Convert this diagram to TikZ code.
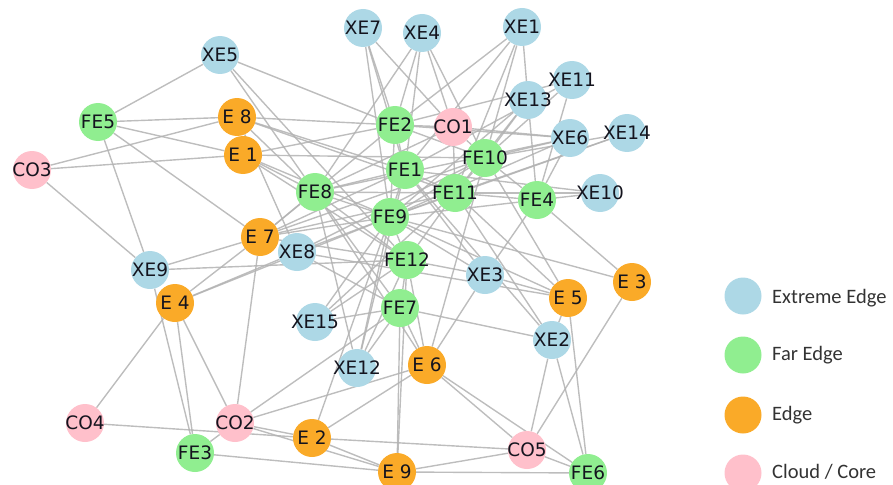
\documentclass[tikz,border=0pt]{standalone}
\usepackage{fontspec}
\setmainfont{DejaVu Sans}
\newfontfamily\legendfont{Carlito}
\usetikzlibrary{backgrounds}
\definecolor{xecol}{RGB}{173,216,230}
\definecolor{fecol}{RGB}{144,238,144}
\definecolor{ecol}{RGB}{250,170,40}
\definecolor{cocol}{RGB}{255,192,203}
\definecolor{linkcol}{RGB}{178,178,178}
\definecolor{labcol}{RGB}{20,20,30}
\newcommand\lbl[1]{\makebox[0pt]{#1}}
\tikzset{
  x=1pt, y=-1pt,
  vert/.style={circle, minimum size=38pt, inner sep=0pt, text=labcol,
    font=\fontsize{18.5}{18.5}\selectfont},
  xe/.style={vert, fill=xecol},
  fe/.style={vert, fill=fecol},
  ed/.style={vert, fill=ecol},
  co/.style={vert, fill=cocol},
  link/.style={draw=linkcol, line width=1.4pt, opacity=0.85},
  legdot/.style={circle, minimum size=37pt, inner sep=0pt},
  legtext/.style={anchor=west, inner sep=0pt, text=black!80,
    font=\legendfont\fontsize{20.5}{20.5}\selectfont},
}
\begin{document}
\begin{tikzpicture}
\useasboundingbox (0,0) rectangle (893,484);

% extreme edge
\node[xe] (XE1)  at (522,27)  {\lbl{XE1}};
\node[xe] (XE2)  at (552,340) {\lbl{XE2}};
\node[xe] (XE3)  at (485,275) {\lbl{XE3}};
\node[xe] (XE4)  at (422,33)  {\lbl{XE4}};
\node[xe] (XE5)  at (220,55)  {\lbl{XE5}};
\node[xe] (XE6)  at (570,138) {\lbl{XE6}};
\node[xe] (XE7)  at (363,28)  {\lbl{XE7}};
\node[xe] (XE8)  at (297,252) {\lbl{XE8}};
\node[xe] (XE9)  at (150,270) {\lbl{XE9}};
\node[xe] (XE10) at (600,193) {\lbl{XE10}};
\node[xe] (XE11) at (572,80)  {\lbl{XE11}};
\node[xe] (XE12) at (357,368) {\lbl{XE12}};
\node[xe] (XE13) at (528,100) {\lbl{XE13}};
\node[xe] (XE14) at (627,133) {\lbl{XE14}};
\node[xe] (XE15) at (315,322) {\lbl{XE15}};
% far edge
\node[fe] (FE1)  at (405,170) {\lbl{FE1}};
\node[fe] (FE2)  at (395,125) {\lbl{FE2}};
\node[fe] (FE3)  at (195,453) {\lbl{FE3}};
\node[fe] (FE4)  at (537,200) {\lbl{FE4}};
\node[fe] (FE5)  at (98,122)  {\lbl{FE5}};
\node[fe] (FE6)  at (588,473) {\lbl{FE6}};
\node[fe] (FE7)  at (400,308) {\lbl{FE7}};
\node[fe] (FE8)  at (315,192) {\lbl{FE8}};
\node[fe] (FE9)  at (390,217) {\lbl{FE9}};
\node[fe] (FE10) at (485,158) {\lbl{FE10}};
\node[fe] (FE11) at (455,193) {\lbl{FE11}};
\node[fe] (FE12) at (407,260) {\lbl{FE12}};
% edge
\node[ed] (E1) at (243,155) {\lbl{E 1}};
\node[ed] (E2) at (312,438) {\lbl{E 2}};
\node[ed] (E3) at (632,282) {\lbl{E 3}};
\node[ed] (E4) at (175,303) {\lbl{E 4}};
\node[ed] (E5) at (568,298) {\lbl{E 5}};
\node[ed] (E6) at (427,365) {\lbl{E 6}};
\node[ed] (E7) at (260,237) {\lbl{E 7}};
\node[ed] (E8) at (237,117) {\lbl{E 8}};
\node[ed] (E9) at (397,472) {\lbl{E 9}};
% cloud / core
\node[co] (CO1) at (453,127) {\lbl{CO1}};
\node[co] (CO2) at (235,423) {\lbl{CO2}};
\node[co] (CO3) at (32,170)  {\lbl{CO3}};
\node[co] (CO4) at (85,423)  {\lbl{CO4}};
\node[co] (CO5) at (527,450) {\lbl{CO5}};

\begin{scope}[on background layer]
\foreach \a/\b in {
  CO3/E8, CO3/E1, CO3/XE9,
  FE5/XE5, FE5/E8, FE5/E1, FE5/E7, FE5/XE9,
  XE5/FE2, XE5/FE8, XE5/FE12,
  E8/FE2, E8/FE8, E8/FE1, E8/FE11, E8/XE8,
  E1/FE2, E1/FE10, E1/FE9, E1/FE8, E1/FE12,
  E7/FE8, E7/FE9, E7/FE11, E7/FE1, E7/XE9, E7/E4, E7/CO2, E7/FE2,
  XE8/FE9, XE8/FE10, XE8/E4, XE8/FE7, XE8/E5,
  XE9/FE12, XE9/FE3,
  E4/FE9, E4/CO2, E4/FE3, E4/CO4,
  CO2/FE3, CO2/E2, CO2/E6, CO2/FE7, CO2/E9,
  CO4/E2, FE3/E9,
  E2/E6, E2/CO5, E2/E9, E2/FE9,
  E9/FE7, E9/CO5, E9/FE6, E9/FE12,
  CO5/E6, CO5/FE6, CO5/XE2, CO5/E3,
  FE6/XE2, FE6/E5, FE6/E6,
  E6/FE7, E6/XE3, E6/FE12, E6/FE10, E6/FE8,
  XE2/FE7, XE2/E5, XE2/FE11, XE2/FE1,
  E5/XE3, E5/FE11, E5/FE10, E5/FE9,
  E3/FE4, E3/FE9,
  XE3/FE12, XE3/FE4, XE3/FE9, XE3/FE1,
  FE7/FE12, FE7/FE8, FE7/XE15, FE7/XE12,
  XE15/FE9, XE15/FE12, XE15/FE11,
  XE12/FE12, XE12/FE9, XE12/FE8, XE12/FE1,
  FE12/FE9, FE12/FE8, FE12/FE11, FE12/E7,
  FE2/XE7, FE2/XE4, FE2/XE1, FE2/XE11, FE2/CO1, FE2/FE1, FE2/FE10, FE2/XE6, FE2/FE9,
  CO1/XE7, CO1/XE4, CO1/FE10, CO1/FE11, CO1/XE6, CO1/FE8,
  XE4/FE8, XE4/FE1, XE4/FE10,
  XE1/FE10, XE1/XE13, XE1/FE1, XE1/FE11,
  XE7/FE1, XE7/FE9,
  XE11/FE4, XE11/FE10, XE11/FE1,
  XE13/FE4, XE13/FE10, XE13/FE11, XE13/FE9,
  XE6/FE10, XE6/FE9, XE6/FE4, XE6/FE8,
  XE14/FE10, XE14/FE11, XE14/FE9,
  XE10/FE4, XE10/FE11, XE10/FE1,
  FE4/FE11, FE4/FE10, FE4/FE9,
  FE11/FE9, FE11/FE1, FE11/FE10, FE11/FE8,
  FE1/FE9, FE1/FE8,
  FE9/FE8, FE10/FE9, FE10/E7}
  \draw[link] (\a) -- (\b);
\end{scope}

% legend
\node[legdot, fill=xecol] (L1) at (743,296) {};
\node[legdot, fill=fecol] (L2) at (743,355) {};
\node[legdot, fill=ecol]  (L3) at (743,415) {};
\node[legdot, fill=cocol] (L4) at (743,473) {};
\node[legtext] (T1) at (772,298) {Extreme Edge};
\node[legtext] (T2) at (772,355) {Far Edge};
\node[legtext] (T3) at (772,415) {Edge};
\node[legtext] (T4) at (772,472) {Cloud / Core};
\end{tikzpicture}
\end{document}
